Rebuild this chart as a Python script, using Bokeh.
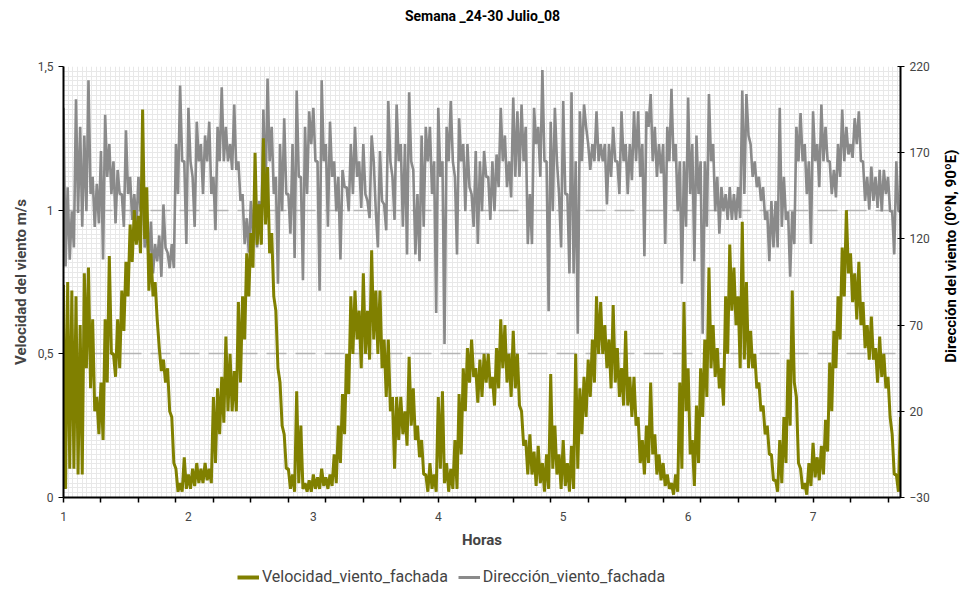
import math
from bokeh.plotting import figure
from bokeh.layouts import column, row
from bokeh.models import (Range1d, LinearAxis, FixedTicker, Legend, LegendItem,
                          ColumnDataSource)
from bokeh.core.properties import value
from bokeh.embed import file_html
from bokeh.resources import INLINE

# ---------------- data ----------------
titulo = "Semana _24-30 Julio_08"
serie_vel = "Velocidad_viento_fachada"
serie_dir = "Dirección_viento_fachada"
eje_dir = "Dirección del viento (0ºN, 90ºE)"

hora_inicio = 1.0
paso_horas = 1 / 60   # samples alternate between the upper and lower edge of each trace

# velocity (m/s): upper / lower edge of the noisy trace, every 1/30 h
vel_alto = [
    0.74, 0.75, 0.72, 0.70, 0.60, 0.78, 0.80, 0.62, 0.35, 0.40, 0.62, 0.84, 0.50, 0.62, 0.72,
    0.82, 0.95, 1.00, 0.98, 1.35, 1.08, 0.85, 0.75, 0.52, 0.48, 0.45, 0.28, 0.10, 0.05, 0.14,
    0.08, 0.10, 0.12, 0.10, 0.12, 0.10, 0.35, 0.38, 0.42, 0.56, 0.50,
    0.44, 0.68, 0.70, 0.85, 0.92, 1.20, 1.02, 1.25, 1.15, 0.92, 0.65, 0.40, 0.22, 0.10, 0.08,
    0.37, 0.25, 0.05, 0.06, 0.08, 0.07, 0.10, 0.07, 0.08, 0.15, 0.25, 0.36, 0.50, 0.70, 0.72,
    0.65, 0.78, 0.65, 0.86, 0.72, 0.72, 0.55, 0.55, 0.35, 0.35,
    0.35, 0.30, 0.49, 0.38, 0.25, 0.20, 0.08, 0.12, 0.08, 0.35, 0.37, 0.12, 0.10, 0.20, 0.36,
    0.45, 0.52, 0.55, 0.45, 0.48, 0.50, 0.50, 0.42, 0.52, 0.62, 0.60, 0.50, 0.58, 0.50, 0.30,
    0.20, 0.22, 0.16, 0.18, 0.12, 0.15, 0.43, 0.25, 0.15, 0.20, 0.12,
    0.18, 0.50, 0.38, 0.42, 0.48, 0.55, 0.70, 0.68, 0.60, 0.55, 0.67, 0.52, 0.45, 0.58, 0.42,
    0.42, 0.28, 0.20, 0.25, 0.40, 0.22, 0.15, 0.12, 0.08, 0.05, 0.08, 0.40, 0.68, 0.45, 0.20,
    0.32, 0.45, 0.55, 0.80, 0.60, 0.52, 0.45, 0.70, 0.88, 0.80,
    0.70, 0.96, 0.75, 0.58, 0.50, 0.40, 0.32, 0.25, 0.15, 0.06, 0.20, 0.28, 0.48, 0.72, 0.35,
    0.10, 0.05, 0.12, 0.19, 0.14, 0.18, 0.27, 0.47, 0.58, 0.70, 0.87, 1.00, 0.85, 0.78, 0.82,
    0.68, 0.60, 0.63, 0.52, 0.56, 0.50, 0.42, 0.22, 0.08, 0.28,
]
vel_bajo = [
    0.03, 0.10, 0.10, 0.08, 0.08, 0.45, 0.38, 0.30, 0.22, 0.20, 0.40, 0.50, 0.42, 0.45, 0.58,
    0.70, 0.82, 0.88, 0.85, 0.90, 0.72, 0.70, 0.62, 0.44, 0.40, 0.30, 0.12, 0.02, 0.02, 0.03,
    0.03, 0.04, 0.05, 0.05, 0.06, 0.05, 0.12, 0.22, 0.26, 0.30, 0.30,
    0.30, 0.40, 0.55, 0.70, 0.80, 0.88, 0.88, 0.95, 0.85, 0.70, 0.45, 0.25, 0.10, 0.03, 0.02,
    0.05, 0.03, 0.02, 0.02, 0.03, 0.03, 0.04, 0.03, 0.04, 0.05, 0.12, 0.22, 0.36, 0.50, 0.55,
    0.45, 0.50, 0.48, 0.55, 0.50, 0.45, 0.35, 0.30, 0.10, 0.20,
    0.22, 0.18, 0.25, 0.20, 0.14, 0.08, 0.02, 0.03, 0.02, 0.10, 0.05, 0.02, 0.03, 0.03, 0.15,
    0.30, 0.40, 0.42, 0.33, 0.35, 0.40, 0.38, 0.32, 0.38, 0.45, 0.40, 0.35, 0.38, 0.32, 0.18,
    0.08, 0.08, 0.04, 0.05, 0.02, 0.03, 0.10, 0.08, 0.03, 0.04, 0.02,
    0.03, 0.10, 0.22, 0.28, 0.35, 0.40, 0.50, 0.50, 0.45, 0.38, 0.40, 0.35, 0.32, 0.32, 0.28,
    0.25, 0.12, 0.08, 0.12, 0.15, 0.08, 0.06, 0.04, 0.03, 0.01, 0.02, 0.10, 0.30, 0.15, 0.04,
    0.12, 0.28, 0.35, 0.45, 0.42, 0.38, 0.32, 0.50, 0.65, 0.60,
    0.45, 0.48, 0.45, 0.45, 0.38, 0.30, 0.22, 0.15, 0.06, 0.02, 0.05, 0.12, 0.25, 0.40, 0.12,
    0.03, 0.01, 0.04, 0.07, 0.06, 0.08, 0.16, 0.30, 0.45, 0.55, 0.70, 0.78, 0.68, 0.62, 0.60,
    0.52, 0.48, 0.48, 0.40, 0.42, 0.38, 0.28, 0.08, 0.02, 0.10,
]

# direction (degrees): upper / lower edge of the noisy trace, every 1/30 h
dir_alto = [
    196, 150, 136, 201, 185, 180, 212, 156, 152, 171, 192, 175, 165, 160, 146, 183, 156, 146,
    156, 150, 127, 130, 117, 122, 140, 112, 117, 175, 209, 165, 196, 156, 188, 175, 180, 188,
    156, 185, 208, 185, 175,
    198, 165, 146, 132, 142, 136, 142, 195, 213, 185, 156, 175, 190, 146, 175, 206, 156, 185,
    194, 196, 165, 212, 175, 188, 165, 156, 160, 150, 175, 185, 165, 175, 142, 180, 136, 171,
    140, 200, 156, 198,
    175, 175, 205, 160, 146, 180, 185, 185, 165, 196, 165, 185, 200, 156, 190, 175, 175, 146,
    171, 165, 171, 156, 165, 169, 196, 180, 165, 202, 194, 198, 185, 146, 196, 185, 218, 165,
    188, 196, 146, 200, 146,
    205, 165, 194, 198, 175, 175, 194, 175, 175, 175, 185, 165, 194, 175, 175, 194, 194, 175,
    194, 204, 185, 175, 175, 185, 207, 175, 165, 165, 202, 175, 180, 165, 165, 204, 175, 156,
    150, 146, 150, 146,
    150, 206, 204, 175, 165, 156, 150, 136, 142, 142, 196, 156, 136, 136, 185, 193, 175, 165,
    194, 175, 198, 185, 165, 160, 175, 195, 185, 175, 190, 194, 165, 156, 162, 156, 160, 160,
    156, 136, 165, 136,
]
dir_bajo = [
    104, 108, 115, 135, 127, 136, 146, 127, 129, 108, 156, 146, 129, 146, 127, 146, 131, 127,
    136, 115, 107, 100, 107, 98, 115, 103, 103, 146, 165, 117, 165, 127, 165, 146, 165, 146,
    125, 165, 165, 165, 160,
    160, 142, 117, 112, 121, 115, 117, 142, 165, 146, 94, 136, 146, 123, 109, 156, 96, 146,
    175, 165, 90, 165, 127, 156, 136, 108, 150, 136, 146, 156, 138, 146, 132, 165, 115, 142,
    125, 165, 131, 165,
    127, 111, 165, 111, 107, 127, 165, 146, 77, 156, 59, 165, 165, 111, 165, 136, 150, 127,
    117, 136, 156, 131, 136, 150, 165, 150, 144, 156, 156, 165, 117, 117, 175, 156, 165, 78,
    136, 165, 115, 146, 100,
    100, 65, 165, 185, 160, 165, 165, 165, 140, 156, 165, 146, 165, 146, 154, 165, 156, 110,
    185, 165, 156, 158, 117, 165, 165, 136, 94, 127, 146, 107, 146, 65, 127, 165, 136, 123,
    136, 131, 131, 131,
    132, 146, 180, 156, 150, 142, 131, 107, 115, 115, 127, 131, 98, 117, 165, 165, 146, 117,
    165, 150, 165, 165, 146, 144, 156, 165, 169, 167, 175, 165, 142, 137, 142, 138, 136, 146,
    136, 111, 136, 90,
]

dias = [1, 2, 3, 4, 5, 6, 7]
vel_ticks = [0, 0.5, 1, 1.5]
vel_labels = {0: "0", 0.5: "0,5", 1: "1", 1.5: "1,5"}
dir_ticks = [-30, 20, 70, 120, 170, 220]

# interleave the two edges into one time series
velocidad = [v for par in zip(vel_alto, vel_bajo) for v in par]
direccion = [d for par in zip(dir_alto, dir_bajo) for d in par]
horas = [hora_inicio + i * paso_horas for i in range(len(velocidad))]

# ---------------- styling ----------------
FONT = "Roboto"
OLIVE = "#808000"
GRAY = "#8a8a8a"
W = 960

# --- title strip ---
pt = figure(width=W, height=30, x_range=Range1d(0, 837), y_range=Range1d(0, 1),
            output_backend="svg", toolbar_location=None, min_border=0,
            min_border_left=63, min_border_right=W - 63 - 837,
            x_axis_type=None, y_axis_type=None)
pt.outline_line_color = None
pt.grid.visible = False
pt.text(x=[419], y=[0.5], text=[titulo], text_font=value(FONT), text_font_size="14px",
        text_font_style="bold", text_color="black", text_align="center",
        text_baseline="middle")

# --- main chart ---
p = figure(frame_width=837, frame_height=431, x_range=Range1d(1, 7.70),
           y_range=Range1d(0, 1.5),
           output_backend="svg", toolbar_location=None,
           min_border_left=63, min_border_right=40, min_border_top=36, min_border_bottom=55)
p.extra_y_ranges = {"dir": Range1d(-30, 220)}
p.outline_line_color = None
p.background_fill_color = "white"
p.border_fill_color = "white"

src = ColumnDataSource(dict(h=horas, v=velocidad, d=direccion))
r_dir = p.line("h", "d", source=src, y_range_name="dir", line_color=GRAY, line_width=2.6)
r_vel = p.line("h", "v", source=src, line_color=OLIVE, line_width=3)

# x axis: labels at whole days, tick marks every 0.3
xa = p.xaxis[0]
xa.ticker = FixedTicker(ticks=dias, minor_ticks=[1 + 0.3 * k for k in range(23)])
xa.major_tick_in = 0
xa.major_tick_out = 0
xa.minor_tick_in = 0
xa.minor_tick_out = 5
xa.minor_tick_line_color = "black"
xa.minor_tick_line_width = 1.5
xa.axis_line_width = 2
xa.axis_label = "Horas"
xa.axis_label_text_font = FONT
xa.axis_label_text_font_size = "15px"
xa.axis_label_text_font_style = "bold"
xa.major_label_text_font = FONT
xa.major_label_text_font_size = "12px"
xa.major_label_standoff = 9
xa.axis_label_standoff = 7

ya = p.yaxis[0]
ya.ticker = FixedTicker(ticks=vel_ticks)
ya.major_label_overrides = vel_labels
ya.major_tick_in = 0
ya.major_tick_out = 5
ya.minor_tick_line_color = None
ya.axis_line_width = 2
ya.axis_label = "Velocidad del viento m/s"
ya.axis_label_text_font = FONT
ya.axis_label_text_font_size = "15px"
ya.axis_label_text_font_style = "bold"
ya.major_label_text_font = FONT
ya.major_label_text_font_size = "12px"

ra = LinearAxis(y_range_name="dir", ticker=FixedTicker(ticks=dir_ticks))
ra.major_tick_in = 3
ra.major_tick_out = 4
ra.minor_tick_line_color = None
ra.axis_line_width = 2
ra.major_label_text_font = FONT
ra.major_label_text_font_size = "12px"
p.add_layout(ra, "right")

# grids: dense light mesh + dashed major horizontal lines
p.xgrid[0].ticker = FixedTicker(ticks=[], minor_ticks=[1 + 0.0375 * k for k in range(180)])
p.xgrid[0].grid_line_color = None
p.xgrid[0].minor_grid_line_color = "#e8e8e8"
p.xgrid[0].minor_grid_line_width = 1

p.ygrid[0].ticker = FixedTicker(ticks=[0.5, 1.0, 1.5],
                                minor_ticks=[k / 60 for k in range(91)])
p.ygrid[0].grid_line_color = "#b4b4b4"
p.ygrid[0].grid_line_dash = "20 9"
p.ygrid[0].grid_line_width = 1.5
p.ygrid[0].minor_grid_line_color = "#e8e8e8"
p.ygrid[0].minor_grid_line_width = 1

# --- right strip holding the right-axis title (reads bottom to top) ---
pr = figure(frame_width=20, frame_height=431, x_range=Range1d(0, 20), y_range=Range1d(0, 1),
            output_backend="svg", toolbar_location=None, min_border=0,
            min_border_top=36, min_border_bottom=55,
            x_axis_type=None, y_axis_type=None)
pr.outline_line_color = None
pr.grid.visible = False
pr.text(x=[10], y=[0.56], text=[eje_dir], angle=math.pi / 2, text_font=value(FONT),
        text_font_size="15px", text_font_style="bold", text_color="black",
        text_align="center", text_baseline="middle")

# --- legend strip (legend proxies are hidden copies of the two series) ---
pl = figure(width=W, height=40, x_range=Range1d(0, 837), y_range=Range1d(0, 1),
            output_backend="svg", toolbar_location=None, min_border=0,
            min_border_left=63, min_border_right=W - 63 - 837,
            x_axis_type=None, y_axis_type=None)
pl.outline_line_color = None
pl.grid.visible = False
l_vel = pl.line("h", "v", source=src, line_color=OLIVE, line_width=4, visible=False)
l_dir = pl.line("h", "d", source=src, line_color=GRAY, line_width=3, visible=False)
legend = Legend(items=[LegendItem(label=serie_vel, renderers=[l_vel]),
                       LegendItem(label=serie_dir, renderers=[l_dir])],
                orientation="horizontal", location=(174, 6))
legend.border_line_color = None
legend.background_fill_alpha = 0
legend.label_text_font = FONT
legend.label_text_font_size = "16px"
legend.glyph_width = 22
legend.glyph_height = 14
legend.label_height = 14
legend.spacing = 10
legend.label_standoff = 3
legend.padding = 0
legend.margin = 0
pl.add_layout(legend, "center")

layout = column(pt, row(p, pr, spacing=0), pl, spacing=0)
open("out.html", "w").write(file_html(layout, INLINE))
